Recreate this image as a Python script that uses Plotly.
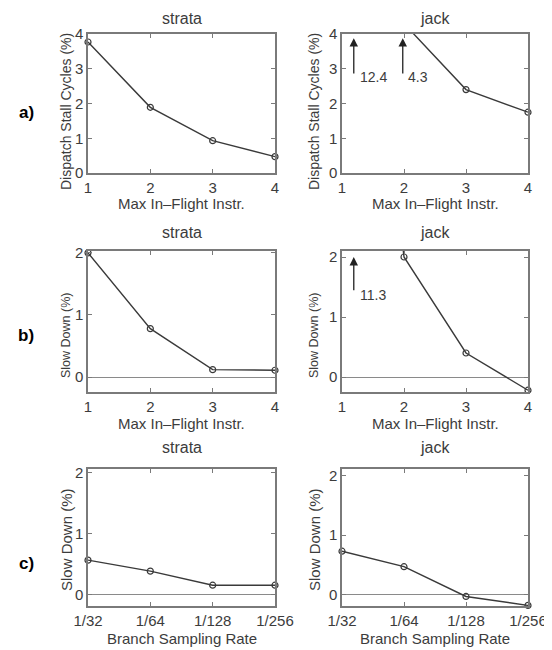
import plotly.graph_objects as go

# ---------------- data ----------------
inflight_x = [1, 2, 3, 4]
inflight_ticks = ["1", "2", "3", "4"]
rate_x = [1, 2, 3, 4]
rate_ticks = ["1/32", "1/64", "1/128", "1/256"]

stall_strata = [3.77, 1.89, 0.93, 0.47]
stall_jack = [12.4, 4.3, 2.40, 1.75]
slow_if_strata = [2.0, 0.78, 0.12, 0.11]
slow_if_jack = [11.3, 2.0, 0.40, -0.22]
slow_br_strata = [0.57, 0.39, 0.16, 0.16]
slow_br_jack = [0.73, 0.47, -0.03, -0.18]

titles = ["strata", "jack"]
row_labels = ["a)", "b)", "c)"]
ytitles = ["Dispatch Stall Cycles (%)", "Slow Down (%)", "Slow Down (%)"]
xtitles = ["Max In\u2013Flight Instr.", "Max In\u2013Flight Instr.", "Branch Sampling Rate"]

# ---------------- layout ----------------
# the page body has an 8px margin, so the figure is offset by 8px
OFF = 8
W, H = 552 - OFF, 650 - OFF
col_px = [(88, 275), (342, 528)]
row_px = [(34, 173), (251, 392), (469, 606)]
yranges = [[[0, 4], [0, 4]],
           [[-0.24, 2.03], [-0.25, 2.1]],
           [[-0.18, 2.06], [-0.19, 2.11]]]
yticks = [[0, 1, 2, 3, 4], [0, 1, 2], [0, 1, 2]]
panels = [
    [(inflight_x, stall_strata), (inflight_x, stall_jack)],
    [(inflight_x, slow_if_strata), (inflight_x, slow_if_jack)],
    [(rate_x, slow_br_strata), (rate_x, slow_br_jack)],
]
xticktext = [inflight_ticks, inflight_ticks, rate_ticks]

LINE = "#3a3a3a"
AX = "#7a7a7a"
TXT = "#3c3c3c"
FONT = "Liberation Sans, Arial, sans-serif"

fig = go.Figure()
annotations = []
layout = {}

def py(p):
    return 1 - (p - OFF) / H

def px(p):
    return (p - OFF) / W

idx = 0
for r in range(3):
    for c in range(2):
        idx += 1
        xa = "xaxis" if idx == 1 else f"xaxis{idx}"
        ya = "yaxis" if idx == 1 else f"yaxis{idx}"
        xr = "x" if idx == 1 else f"x{idx}"
        yr = "y" if idx == 1 else f"y{idx}"
        xs, ys = panels[r][c]
        lo, hi = yranges[r][c]
        fig.add_trace(go.Scatter(x=xs, y=ys, mode="lines", xaxis=xr, yaxis=yr,
                                 line=dict(color=LINE, width=1.4), showlegend=False,
                                 hoverinfo="skip"))
        vis = [(a, b) for a, b in zip(xs, ys) if lo <= b <= hi]
        fig.add_trace(go.Scatter(x=[v[0] for v in vis], y=[v[1] for v in vis],
                                 mode="markers", xaxis=xr, yaxis=yr, cliponaxis=False,
                                 marker=dict(symbol="circle-open", size=6,
                                             color=LINE, line=dict(width=1.2)),
                                 showlegend=False))
        x0, x1 = col_px[c]
        y0, y1 = row_px[r]
        layout[xa] = dict(domain=[px(x0), px(x1)], range=[1, 4], anchor=yr,
                          tickvals=xs, ticktext=xticktext[r], automargin=False,
                          ticks="inside", ticklen=4, tickcolor=AX, mirror="ticks",
                          showline=True, linecolor=AX, linewidth=1.5,
                          showgrid=False, zeroline=False,
                          tickfont=dict(size=15, color=TXT, family=FONT))
        layout[ya] = dict(domain=[py(y1), py(y0)], range=[lo, hi], anchor=xr,
                          tickvals=yticks[r], automargin=False,
                          ticks="inside", ticklen=4, tickcolor=AX, mirror="ticks",
                          showline=True, linecolor=AX, linewidth=1.5,
                          showgrid=False, zeroline=(r > 0), zerolinecolor="#8a8a8a",
                          zerolinewidth=1,
                          tickfont=dict(size=15, color=TXT, family=FONT))
        # subplot title
        title_y = [18.5, 232, 447][r]
        annotations.append(dict(text=titles[c], x=px((x0 + x1) / 2), y=py(title_y),
                                xref="paper", yref="paper", showarrow=False,
                                font=dict(size=16, color=TXT, family=FONT),
                                xanchor="center", yanchor="middle"))
        # x title
        xt_y = [203, 423, 638][r]
        annotations.append(dict(text=xtitles[r], x=px((x0 + x1) / 2), y=py(xt_y),
                                xref="paper", yref="paper", showarrow=False,
                                font=dict(size=15, color=TXT, family=FONT),
                                xanchor="center", yanchor="middle"))
        # y title
        yt_x = [66, 314][c]
        yt_y = [112, 336, 540][r]
        yt_size = [14, 12.5, 15][r]
        annotations.append(dict(text=ytitles[r], x=px(yt_x), y=py(yt_y),
                                xref="paper", yref="paper", showarrow=False,
                                textangle=-90,
                                font=dict(size=yt_size, color=TXT, family=FONT),
                                xanchor="center", yanchor="middle"))

# row labels
for r, lab in enumerate(row_labels):
    annotations.append(dict(text=f"<b>{lab}</b>", x=px(26), y=py([113, 335, 563][r]),
                            xref="paper", yref="paper", showarrow=False,
                            font=dict(size=17, color="#000", family=FONT),
                            xanchor="center", yanchor="middle"))

# off-scale arrows
arrow_specs = [
    # (xref, yref, arrow x, tail y, head y, label, label x, label y)
    ("x2", "y2", 1.19, 2.82, 3.88, f"{stall_jack[0]:.1f}", 1.26, 2.76),
    ("x2", "y2", 1.98, 2.82, 3.88, f"{stall_jack[1]:.1f}", 2.03, 2.76),
    ("x4", "y4", 1.19, 1.42, 2.0, f"{slow_if_jack[0]:.1f}", 1.26, 1.37),
]
for xr, yr, ax_, ty, hy, lab, lx, ly in arrow_specs:
    annotations.append(dict(x=ax_, y=hy, ax=ax_, ay=ty, xref=xr, yref=yr,
                            axref=xr, ayref=yr, text="", showarrow=True,
                            arrowhead=2, arrowsize=1.3, arrowwidth=1.3,
                            arrowcolor="#222", standoff=0, startstandoff=0))
    annotations.append(dict(x=lx, y=ly, xref=xr, yref=yr, text=lab, showarrow=False,
                            xanchor="left", yanchor="middle",
                            font=dict(size=14, color=TXT, family=FONT)))

fig.update_layout(width=W, height=H, margin=dict(l=0, r=0, t=0, b=0),
                  template="none",
                  paper_bgcolor="white", plot_bgcolor="white",
                  annotations=annotations, **layout)

fig.write_html("out.html")
